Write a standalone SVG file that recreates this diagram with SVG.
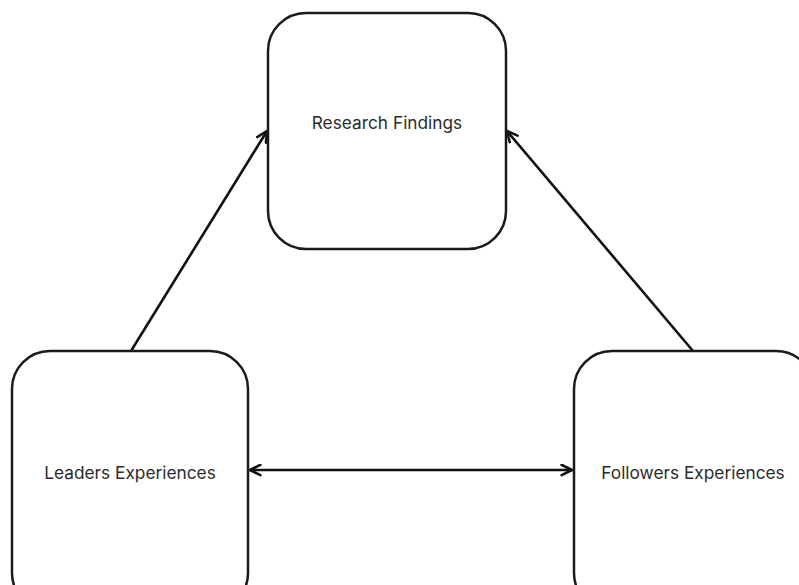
<svg xmlns="http://www.w3.org/2000/svg" width="799" height="585" viewBox="0 0 799 585">
  <style>
    .box { fill: #ffffff; stroke: #1a1a1a; stroke-width: 2.5; }
    .label { font-family: Inter, "Noto Sans", "Liberation Sans", sans-serif; font-size: 17.3px; fill: #2b2b2b; text-anchor: middle; dominant-baseline: central; }
    .link { stroke: #111111; stroke-width: 2.6; fill: none; }
  </style>
  <defs>
    <marker id="head" viewBox="0 0 10 10" refX="9" refY="5" markerWidth="5" markerHeight="5" orient="auto-start-reverse" markerUnits="strokeWidth">
      <path d="M1,1 L9,5 L1,9" fill="none" stroke="#111111" stroke-width="2" stroke-linecap="round" stroke-linejoin="round"/>
    </marker>
  </defs>
  <rect width="799" height="585" fill="#ffffff"/>

  <g id="connectors">
    <line class="link" x1="131" y1="351" x2="267" y2="131" marker-end="url(#head)"/>
    <line class="link" x1="693" y1="351" x2="507" y2="131" marker-end="url(#head)"/>
    <line class="link" x1="250" y1="470" x2="572" y2="470" marker-start="url(#head)" marker-end="url(#head)"/>
  </g>

  <g id="research-findings">
    <rect class="box" x="268" y="13" width="238" height="236" rx="38" ry="38"/>
    <text class="label" x="387" y="122">Research Findings</text>
  </g>

  <g id="leaders-experiences">
    <rect class="box" x="12" y="351" width="236" height="260" rx="38" ry="38"/>
    <text class="label" x="130" y="472">Leaders Experiences</text>
  </g>

  <g id="followers-experiences">
    <rect class="box" x="574" y="351" width="240" height="260" rx="38" ry="38"/>
    <text class="label" x="693" y="472">Followers Experiences</text>
  </g>
</svg>
